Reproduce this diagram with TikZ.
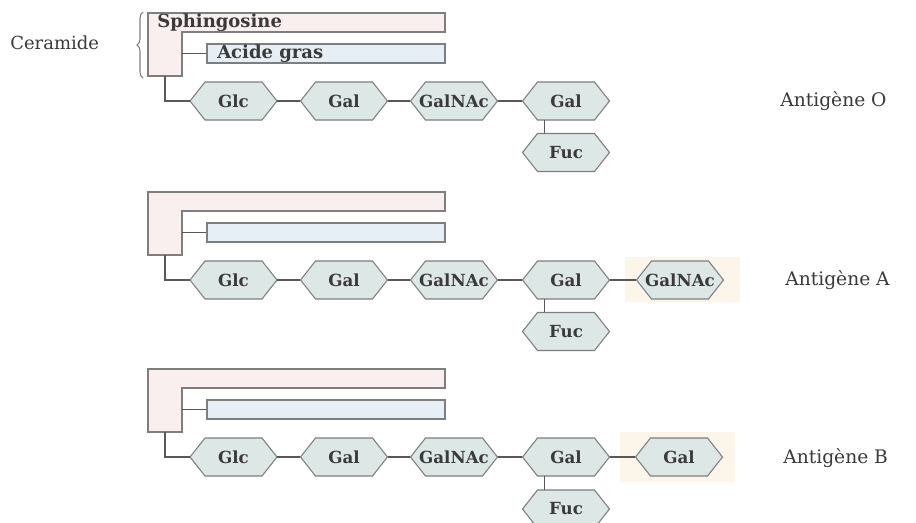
\documentclass[tikz,border=0pt]{standalone}
\usepackage{fontspec}
\setmainfont{DejaVu Serif}
\usetikzlibrary{decorations.pathreplacing}
\definecolor{hexfill}{HTML}{DDE7E5}
\definecolor{hexline}{HTML}{7E7E7E}
\definecolor{sphfill}{HTML}{F8EFEE}
\definecolor{acidfill}{HTML}{E7EFF6}
\definecolor{ink}{HTML}{3A3A3A}
\definecolor{paleyel}{HTML}{FBF6E9}
\tikzset{
  hexbox/.style={rectangle, minimum width=65.25pt, minimum height=28.5pt, inner sep=0pt,
    font=\fontsize{12.5}{13}\selectfont\bfseries, text=ink},
  hexedge/.style={draw=hexline, line width=0.8pt, fill=hexfill},
  link/.style={draw=ink!85, line width=1.1pt},
  sphbox/.style={draw=hexline, line width=0.9pt, fill=sphfill},
  acidbox/.style={rectangle, draw=hexline, line width=0.9pt, fill=acidfill,
    minimum width=178.5pt, minimum height=14.25pt, inner sep=0pt},
  boxlabel/.style={anchor=west, inner sep=0pt, font=\fontsize{13.5}{14}\selectfont\bfseries, text=ink},
  sidelabel/.style={inner sep=0pt, font=\fontsize{14}{15}\selectfont, text=ink},
  hilite/.style={fill=paleyel, draw=none},
}
% #1 name, #2 x, #3 y, #4 text
\newcommand\sugar[4]{%
  \path[hexedge] (#2-43.5,#3) -- (#2-28.5,#3-19) -- (#2+28.5,#3-19) -- (#2+43.5,#3)
    -- (#2+28.5,#3+19) -- (#2-28.5,#3+19) -- cycle;
  \node[hexbox] (#1) at (#2,#3) {#4};
}
% #1 suffix, #2 y offset
\newcommand\ceramidepart[2]{%
  \path[sphbox] (148,13+#2) -- (445,13+#2) -- (445,32+#2) -- (182,32+#2)
    -- (182,76+#2) -- (148,76+#2) -- cycle;
  \coordinate (lbot#1) at (165,76+#2);
  \coordinate (acj#1) at (182,53.5+#2);
  \node[acidbox] (acid#1) at (326,53.5+#2) {};
  \draw[link] (acj#1) -- (acid#1.west);
}
\begin{document}
\begin{tikzpicture}[x=0.75pt,y=-0.75pt]
\useasboundingbox (0,0) rectangle (916,522);
\fill[white] (0,0) rectangle (916,522);

% ---------- Antigene O ----------
\ceramidepart{O}{0}
\node[boxlabel] (sphO) at (157,23) {Sphingosine};
\node[boxlabel] (agO) at (217,53.5) {Acide gras};
\draw[hexline, line width=0.8pt, decorate, decoration={brace, amplitude=4.5pt}]
  (143,78) -- (143,12);
\node[sidelabel, anchor=west, font=\fontsize{13.5}{14}\selectfont] (cer) at (10,43) {Ceramide};
\sugar{glcO}{233.5}{101}{Glc}
\sugar{galO}{344}{101}{Gal}
\sugar{galnacO}{454}{101}{GalNAc}
\sugar{galdO}{566}{101}{Gal}
\sugar{fucO}{566}{152.5}{Fuc}
\draw[link] (lbotO) |- (glcO.west);
\draw[link] (glcO.east) -- (galO.west);
\draw[link] (galO.east) -- (galnacO.west);
\draw[link] (galnacO.east) -- (galdO.west);
\draw[link] ([xshift=16.5pt]galdO.south west) -- ([xshift=16.5pt]fucO.north west);
\node[sidelabel, anchor=west] (antO) at (780,101) {Antigène O};

% ---------- Antigene A ----------
\ceramidepart{A}{179}
\fill[hilite] (625,257) rectangle (740,302);
\sugar{glcA}{233.5}{280}{Glc}
\sugar{galA}{344}{280}{Gal}
\sugar{galnacA}{454}{280}{GalNAc}
\sugar{galdA}{566}{280}{Gal}
\sugar{fucA}{566}{331.5}{Fuc}
\sugar{termA}{680}{280}{GalNAc}
\draw[link] (lbotA) |- (glcA.west);
\draw[link] (glcA.east) -- (galA.west);
\draw[link] (galA.east) -- (galnacA.west);
\draw[link] (galnacA.east) -- (galdA.west);
\draw[link] (galdA.east) -- (termA.west);
\draw[link] ([xshift=16.5pt]galdA.south west) -- ([xshift=16.5pt]fucA.north west);
\node[sidelabel, anchor=west] (antA) at (785,280) {Antigène A};

% ---------- Antigene B ----------
\ceramidepart{B}{356}
\fill[hilite] (620,432) rectangle (735,482);
\sugar{glcB}{233.5}{457}{Glc}
\sugar{galB}{344}{457}{Gal}
\sugar{galnacB}{454}{457}{GalNAc}
\sugar{galdB}{566}{457}{Gal}
\sugar{fucB}{566}{509}{Fuc}
\sugar{termB}{679}{457}{Gal}
\draw[link] (lbotB) |- (glcB.west);
\draw[link] (glcB.east) -- (galB.west);
\draw[link] (galB.east) -- (galnacB.west);
\draw[link] (galnacB.east) -- (galdB.west);
\draw[link] (galdB.east) -- (termB.west);
\draw[link] ([xshift=16.5pt]galdB.south west) -- ([xshift=16.5pt]fucB.north west);
\node[sidelabel, anchor=west] (antB) at (783,458) {Antigène B};
\end{tikzpicture}
\end{document}
